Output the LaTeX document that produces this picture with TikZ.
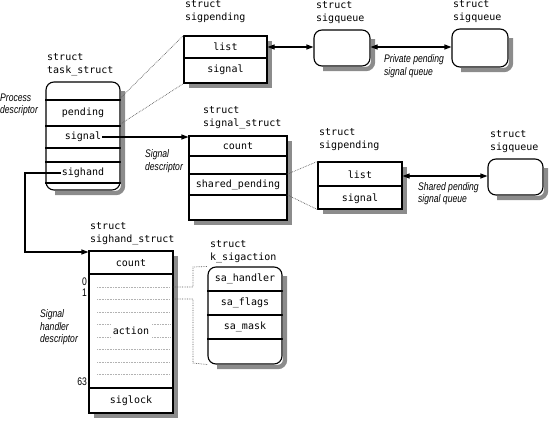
\documentclass[tikz,border=0pt]{standalone}
\usepackage{fontspec}
\setmonofont{DejaVu Sans Mono}
\newfontfamily\capfont[FakeStretch=0.78]{Liberation Sans}
\usetikzlibrary{arrows.meta}
\definecolor{shadowgray}{RGB}{140,140,140}
\begin{document}
\begin{tikzpicture}[x=1pt,y=-1pt,
  box/.style={draw, line width=1.1pt, fill=white, inner sep=0pt},
  rbox/.style={box, rounded corners=8pt},
  boxshadow/.style={draw=shadowgray, line width=4.4pt},
  row/.style={font=\ttfamily\fontsize{10}{12}\selectfont, inner sep=1pt},
  lbl/.style={font=\ttfamily\fontsize{10}{13}\selectfont, align=left, anchor=west, inner sep=0pt},
  captext/.style={font=\capfont\itshape\fontsize{11}{12.5}\selectfont, align=left, anchor=west, inner sep=0pt},
  rowline/.style={line width=1.1pt},
  dots/.style={densely dotted, line width=0.7pt, gray!70!black},
  idots/.style={densely dotted, line width=0.6pt, gray!60},
  arr/.style={line width=1.1pt, -{Triangle[length=7pt,width=5pt]}},
  darr/.style={line width=1.1pt, {Triangle[length=7pt,width=5pt]}-{Triangle[length=7pt,width=5pt]}},
  num/.style={font=\capfont\fontsize{11}{12}\selectfont, anchor=east, inner sep=0pt}
]
\useasboundingbox (0,0) rectangle (550,424);

% task_struct
\node[rbox, minimum width=74pt, minimum height=108pt] (ts) at (83,136) {};
\foreach \yy in {100,126,148,162,183} \draw[rowline] (ts.west |- 0,\yy) -- (ts.east |- 0,\yy);
\node[row] (tspend) at (83,113) {pending};
\node[row] (tssig) at (83,137) {signal};
\node[row] (tshand) at (83,173) {sighand};
\node[lbl] (tslbl) at (47,65) {struct\\task\_struct};
\node[captext] (pdesc) at (0,105) {Process\\descriptor};

% sigpending 1
\node[box, minimum width=83pt, minimum height=47pt] (sp1) at (225.5,59.5) {};
\draw[rowline] (sp1.west |- 0,58) -- (sp1.east |- 0,58);
\node[row] (sp1list) at (225.5,47) {list};
\node[row] (sp1sig) at (225.5,70) {signal};
\node[lbl] (sp1lbl) at (185,12) {struct\\sigpending};

% sigqueues top
\node[rbox, minimum width=56pt, minimum height=36pt] (sq1) at (342,48) {};
\node[lbl] (sq1lbl) at (316,12.5) {struct\\sigqueue};
\node[rbox, minimum width=56pt, minimum height=38pt] (sq2) at (480,48) {};
\node[lbl] (sq2lbl) at (453,11.5) {struct\\sigqueue};
\node[captext] (privcap) at (384,66) {Private pending\\signal queue};

% signal_struct
\node[box, minimum width=98pt, minimum height=84pt] (ss) at (238,178) {};
\foreach \yy in {156,174,195} \draw[rowline] (ss.west |- 0,\yy) -- (ss.east |- 0,\yy);
\node[row] (sscount) at (238,146) {count};
\node[row] (ssshared) at (238,185) {shared\_pending};
\node[lbl] (sslbl) at (203,118) {struct\\signal\_struct};
\node[captext] (sdesc) at (145,161) {Signal\\descriptor};

% sigpending 2
\node[box, minimum width=84pt, minimum height=47pt] (sp2) at (360,185.5) {};
\draw[rowline] (sp2.west |- 0,186) -- (sp2.east |- 0,186);
\node[row] (sp2list) at (360,175) {list};
\node[row] (sp2sig) at (360,199) {signal};
\node[lbl] (sp2lbl) at (319,139.5) {struct\\sigpending};

% sigqueue 3
\node[rbox, minimum width=55pt, minimum height=36pt] (sq3) at (515.5,177) {};
\node[lbl] (sq3lbl) at (490,141.5) {struct\\sigqueue};
\node[captext] (sharedcap) at (418,193.5) {Shared pending\\signal queue};

% sighand_struct
\node[box, minimum width=84pt, minimum height=162pt] (sh) at (131,332) {};
\foreach \yy in {274,388} \draw[rowline] (sh.west |- 0,\yy) -- (sh.east |- 0,\yy);
\foreach \yy in {287,299,312,349,362,374} \draw[idots] (97,\yy) -- (170,\yy);
\foreach \yy in {324,337} {\draw[idots] (97,\yy) -- (110,\yy); \draw[idots] (152,\yy) -- (170,\yy);}
\node[row] (shcount) at (131,263) {count};
\node[row] (shaction) at (131,331) {action};
\node[row] (shlock) at (131,401) {siglock};
\node[num] (n0) at (87,282) {0};
\node[num] (n1) at (87,293) {1};
\node[num] (n63) at (87,382) {63};
\node[lbl] (shlbl) at (90,234) {struct\\sighand\_struct};
\node[captext] (hdesc) at (40,327.5) {Signal\\handler\\descriptor};

% k_sigaction
\node[rbox, minimum width=74pt, minimum height=97pt] (ks) at (245,315.5) {};
\foreach \yy in {291,315,339} \draw[rowline] (ks.west |- 0,\yy) -- (ks.east |- 0,\yy);
\node[row] (kshand) at (245,279) {sa\_handler};
\node[row] (ksflags) at (245,303) {sa\_flags};
\node[row] (ksmask) at (245,327) {sa\_mask};
\node[lbl] (kslbl) at (210,251.5) {struct\\k\_sigaction};

% shadows, just outside the right and bottom edges
\foreach \xa/\ya/\xb/\yb in {184/36/267/83, 189/136/287/220, 318/162/402/209, 89/251/173/413}
  \draw[boxshadow] (\xb+3,\ya+5) -- (\xb+3,\yb+3) -- (\xa+5,\yb+3);
\foreach \xa/\ya/\xb/\yb in {46/82/120/190, 314/30/370/66, 452/29/508/67, 488/159/543/195, 208/267/282/364}
  \draw[boxshadow, rounded corners=7pt] (\xb+3,\ya+9) -- (\xb+3,\yb+3) -- (\xa+9,\yb+3);

% connectors
\draw[darr] (sp1.east |- 0,47) -- (sq1.west |- 0,47);
\draw[darr] (sq1.east |- 0,47) -- (sq2.west |- 0,47);
\draw[arr] (tssig.east) -- (ss.west |- tssig.east);
\draw[darr] (sp2.east |- 0,176) -- (sq3.west |- 0,176);
\draw[dots] (ts.east |- 0,98) -- (sp1.north west);
\draw[dots] (ts.east |- 0,124) -- (sp1.south west);
\draw[dots] (ss.east |- 0,174) -- (sp2.north west);
\draw[dots] (ss.east |- 0,195) -- (sp2.south west);
\coordinate (bend) at (25,173);
\draw[line width=1.1pt, -{Triangle[length=7pt,width=5pt]}] (tshand.west) -- (bend) -- (25,252) -- (sh.west |- 0,252);
\draw[dots] (sh.east |- 0,287) -- (193,287) -- (193,267) -- (ks.north west);
\draw[dots] (sh.east |- 0,299) -- (193,299) -- (193,363) -- (ks.south west);
\end{tikzpicture}
\end{document}
